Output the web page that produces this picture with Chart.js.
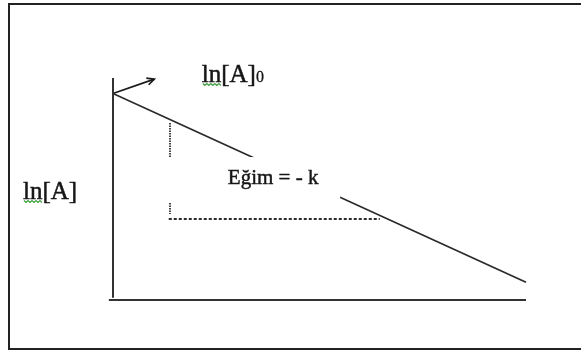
<!DOCTYPE html>
<html>
<head>
<meta charset="utf-8">
<script src="https://cdn.jsdelivr.net/npm/chart.js@4"></script>
<style>
  html, body { margin: 0; padding: 0; background: #fff; overflow: hidden; }
  #frame {
    position: absolute; left: 8px; top: 3px;
    width: 700px; height: 343px;
    border: 2px solid #222;
    border-right: none;
  }
  #wrap { position: absolute; left: 0; top: 0; width: 581px; height: 354px; }
</style>
</head>
<body>
<div id="frame"></div>
<div id="wrap"><canvas id="lnChart" width="581" height="354"></canvas></div>
<script>
// first-order plot: ln[A] = ln[A]0 - k t  (arbitrary units)
const tLine = [0, 10];
const lnALine = [9.3, 0.8];

// axes
const xAxisT = [-0.1, 10];
const xAxisLn = [0, 0];
const yAxisT = [0, 0];
const yAxisLn = [0.1, 10];

// arrow pointing to the intercept label
const arrowT = [0, 1.0];
const arrowLn = [9.3, 9.95];

// slope triangle (rise dotted, run dashed)
const riseT = [1.38, 1.38];
const riseLn = [7.97, 3.87];
const runT = [1.35, 6.46];
const runLn = [3.65, 3.65];

const toPoints = (xs, ys) => xs.map((x, i) => ({ x: x, y: ys[i] }));

function lineSet(label, xs, ys, color, width, dash) {
  return {
    label: label,
    data: toPoints(xs, ys),
    borderColor: color,
    borderWidth: width,
    borderDash: dash || [],
    pointRadius: 0,
    fill: false,
    clip: false,
    showLine: true,
  };
}

const SERIF = "'Liberation Serif', 'Times New Roman', serif";

// draws the open arrowhead, the white text box and the labels
const annotations = {
  id: "annotations",
  afterDatasetsDraw(chart) {
    const ctx = chart.ctx;
    const xs = chart.scales.x;
    const ys = chart.scales.y;
    const px = (t) => xs.getPixelForValue(t);
    const py = (v) => ys.getPixelForValue(v);

    // arrowhead
    const arrowMeta = chart.getDatasetMeta(2).data;
    const a = arrowMeta[0], b = arrowMeta[1];
    const ang = Math.atan2(b.y - a.y, b.x - a.x);
    ctx.save();
    ctx.strokeStyle = "#1a1a1a";
    ctx.lineWidth = 1.7;
    ctx.beginPath();
    ctx.moveTo(b.x - 8 * Math.cos(ang - 0.45), b.y - 8 * Math.sin(ang - 0.45));
    ctx.lineTo(b.x, b.y);
    ctx.lineTo(b.x - 8 * Math.cos(ang + 0.45), b.y - 8 * Math.sin(ang + 0.45));
    ctx.stroke();
    ctx.restore();

    // white text box that hides part of the line
    ctx.save();
    ctx.fillStyle = "#fff";
    const bx0 = px(1.14), bx1 = px(5.5), by0 = py(6.44), by1 = py(4.37);
    ctx.fillRect(bx0, by0, bx1 - bx0, by1 - by0);
    ctx.restore();

    function txt(s, x, y, size, weight) {
      ctx.font = size + "px " + SERIF;
      ctx.fillText(s, x, y);
      ctx.lineWidth = weight;
      ctx.strokeText(s, x, y);
      return ctx.measureText(s).width;
    }

    ctx.save();
    ctx.fillStyle = "#161616";
    ctx.strokeStyle = "#161616";
    ctx.textBaseline = "alphabetic";
    ctx.textAlign = "left";

    // ln[A]0
    const tx = px(2.15), tyb = py(9.82);
    const w1 = txt("ln[A]", tx, tyb, 25, 0.5);
    ctx.font = "25px " + SERIF;
    const wLn = ctx.measureText("ln").width;
    txt("0", tx + w1, tyb, 16, 0.3);

    // ln[A] on the y axis
    const lx = px(-2.18), lyb = py(4.55);
    txt("ln[A]", lx, lyb, 25, 0.5);

    // slope label
    txt("Eğim = - k", px(2.78), py(5.23), 21, 0.45);
    ctx.restore();

    // spell-check squiggles under "ln"
    function squiggle(x0, y0, w) {
      ctx.save();
      ctx.strokeStyle = "#3f9f3f";
      ctx.lineWidth = 1.2;
      ctx.beginPath();
      for (let x = 0; x <= w; x += 2) {
        const y = y0 + ((x / 2) % 2 === 0 ? 0 : 2);
        if (x === 0) ctx.moveTo(x0 + x, y);
        else ctx.lineTo(x0 + x, y);
      }
      ctx.stroke();
      ctx.restore();
    }
    squiggle(tx + 1, tyb + 1.5, wLn);
    squiggle(lx + 1, lyb + 1.5, wLn);
  },
};

new Chart(document.getElementById("lnChart").getContext("2d"), {
  type: "scatter",
  data: {
    datasets: [
      lineSet("x axis", xAxisT, xAxisLn, "#333", 2),
      lineSet("y axis", yAxisT, yAxisLn, "#333", 2),
      lineSet("arrow", arrowT, arrowLn, "#1a1a1a", 1.7),
      lineSet("ln[A]", tLine, lnALine, "#2a2a2a", 1.7),
      lineSet("rise", riseT, riseLn, "#444", 2, [1.5, 1]),
      lineSet("run", runT, runLn, "#2a2a2a", 2, [3, 2]),
    ],
  },
  options: {
    responsive: false,
    animation: false,
    layout: { padding: { left: 113, right: 55, top: 78, bottom: 54 } },
    scales: {
      x: { type: "linear", min: 0, max: 10, display: false },
      y: { type: "linear", min: 0, max: 10, display: false },
    },
    plugins: {
      legend: { display: false },
      tooltip: { enabled: false },
    },
  },
  plugins: [annotations],
});
</script>
</body>
</html>
